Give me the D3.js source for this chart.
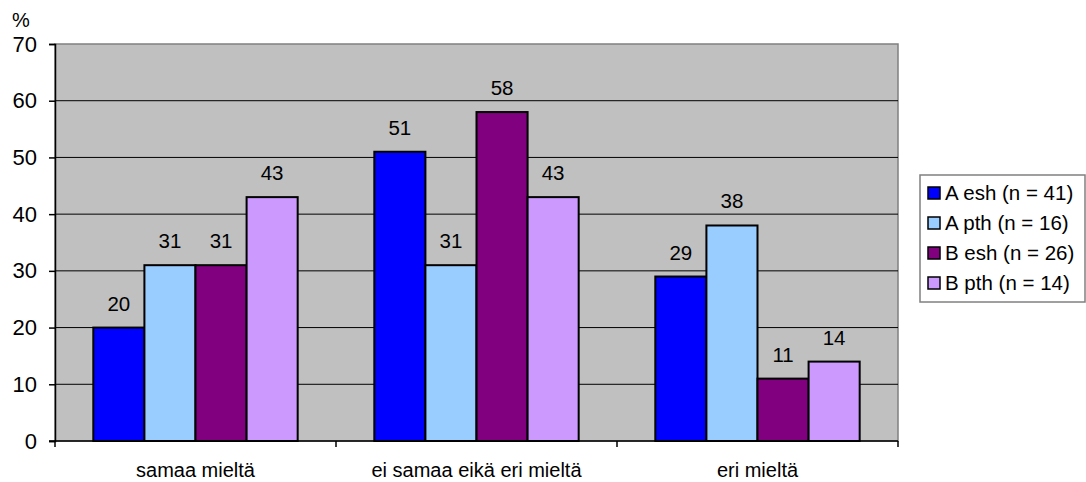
<!DOCTYPE html>
<html>
<head>
<meta charset="utf-8">
<script src="https://cdn.jsdelivr.net/npm/d3@7"></script>
<style>
  body { margin: 0; background: #fff; }
  text { font-family: "Liberation Sans", Arial, sans-serif; fill: #000; }
</style>
</head>
<body>
<svg id="chart" width="1086" height="482"></svg>
<script>
var categories = ["samaa mieltä", "ei samaa eikä eri mieltä", "eri mieltä"];
var seriesNames = ["A esh (n = 41)", "A pth (n = 16)", "B esh (n = 26)", "B pth (n = 14)"];
var seriesColors = ["#0000FF", "#99CCFF", "#800080", "#CC99FF"];
var aEsh = [20, 51, 29];
var aPth = [31, 31, 38];
var bEsh = [31, 58, 11];
var bPth = [43, 43, 14];
var yTicks = [0, 10, 20, 30, 40, 50, 60, 70];

var seriesValues = [aEsh, aPth, bEsh, bPth];

var svg = d3.select("#chart");
var plotL = 55, plotR = 898, plotT = 44, plotB = 441;

var x0 = d3.scaleBand().domain(categories).range([plotL, plotR]);
var cw = x0.bandwidth();
var barW = cw / 5.5;  // excel gap width 150%
var x1 = d3.scaleBand().domain(d3.range(4)).range([barW * 0.75, cw - barW * 0.75]);
var y = d3.scaleLinear().domain([0, 70]).range([plotB, plotT]);

// plot area
svg.append("rect")
  .attr("x", plotL).attr("y", plotT)
  .attr("width", plotR - plotL).attr("height", plotB - plotT)
  .attr("fill", "#C0C0C0")
  .attr("stroke", "#808080").attr("stroke-width", 1.5);

// gridlines
svg.append("g").selectAll("line")
  .data(yTicks.filter(function (d) { return d > 0 && d < 70; }))
  .enter().append("line")
  .attr("x1", plotL).attr("x2", plotR)
  .attr("y1", function (d) { return y(d); })
  .attr("y2", function (d) { return y(d); })
  .attr("stroke", "#000").attr("stroke-width", 1);

// bars
var groups = svg.append("g").selectAll("g")
  .data(categories)
  .enter().append("g")
  .attr("transform", function (d) { return "translate(" + x0(d) + ",0)"; });

groups.selectAll("rect")
  .data(function (d, ci) { return seriesValues.map(function (s, si) { return { si: si, v: s[ci] }; }); })
  .enter().append("rect")
  .attr("x", function (d) { return x1(d.si); })
  .attr("y", function (d) { return y(d.v); })
  .attr("width", x1.bandwidth())
  .attr("height", function (d) { return plotB - y(d.v); })
  .attr("fill", function (d) { return seriesColors[d.si]; })
  .attr("stroke", "#000").attr("stroke-width", 2);

groups.selectAll("text")
  .data(function (d, ci) { return seriesValues.map(function (s, si) { return { si: si, v: s[ci] }; }); })
  .enter().append("text")
  .attr("x", function (d) { return x1(d.si) + x1.bandwidth() / 2; })
  .attr("y", function (d) { return y(d.v) - 17; })
  .attr("text-anchor", "middle")
  .style("font-size", "20.5px")
  .text(function (d) { return d.v; });

// y axis
var yAxis = d3.axisLeft(y).tickValues(yTicks).tickSize(6).tickPadding(12);
var ya = svg.append("g").attr("transform", "translate(" + plotL + ",0)").call(yAxis);
ya.select(".domain").attr("stroke", "#000").attr("stroke-width", 1.5);
ya.selectAll("line").attr("stroke", "#000").attr("stroke-width", 1.5);
ya.selectAll("text").style("font-size", "22px").attr("font-family", null);

// x axis
svg.append("line")
  .attr("x1", plotL - 6).attr("x2", plotR)
  .attr("y1", plotB).attr("y2", plotB)
  .attr("stroke", "#000").attr("stroke-width", 1.5);
var tickXs = categories.map(function (c) { return x0(c); }).concat([plotR]);
svg.append("g").selectAll("line")
  .data(tickXs).enter().append("line")
  .attr("x1", function (d) { return d; }).attr("x2", function (d) { return d; })
  .attr("y1", plotB).attr("y2", plotB + 6)
  .attr("stroke", "#000").attr("stroke-width", 1.5);
svg.append("g").selectAll("text")
  .data(categories).enter().append("text")
  .attr("x", function (d) { return x0(d) + cw / 2; })
  .attr("y", 477)
  .attr("text-anchor", "middle")
  .style("font-size", "20px")
  .text(function (d) { return d; });

// % unit label
svg.append("text").attr("x", 12).attr("y", 27).style("font-size", "20px").text("%");

// legend
var lg = svg.append("g").attr("transform", "translate(920,175)");
lg.append("rect").attr("width", 165).attr("height", 127)
  .attr("fill", "#fff").attr("stroke", "#808080").attr("stroke-width", 1.5);
var items = lg.selectAll("g.item").data(seriesNames).enter().append("g")
  .attr("class", "item")
  .attr("transform", function (d, i) { return "translate(0," + (18 + i * 30) + ")"; });
items.append("rect")
  .attr("x", 8).attr("y", -6).attr("width", 12).attr("height", 12)
  .attr("fill", function (d, i) { return seriesColors[i]; })
  .attr("stroke", "#000").attr("stroke-width", 1.5);
items.append("text")
  .attr("x", 25).attr("y", 7)
  .style("font-size", "20.5px")
  .text(function (d) { return d; });
</script>
</body>
</html>
